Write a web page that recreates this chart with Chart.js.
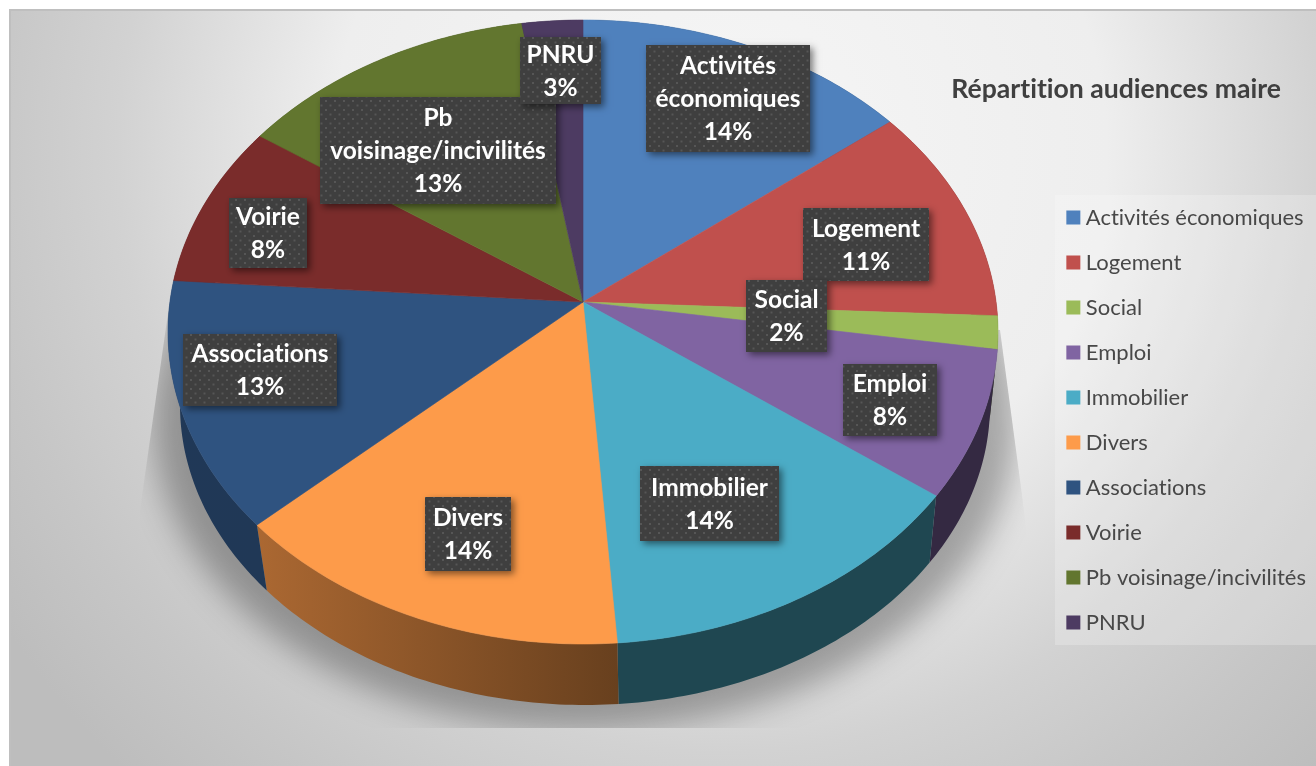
<!DOCTYPE html>
<html lang="fr">
<head>
<meta charset="utf-8">
<style>html,body{margin:0;padding:0;background:#fff}canvas{display:block}</style>
<script src="https://cdn.jsdelivr.net/npm/chart.js@4"></script>
</head>
<body>
<canvas id="c" width="1316" height="766"></canvas>
<script>
const categories = ['Activités économiques','Logement','Social','Emploi','Immobilier','Divers','Associations','Voirie','Pb voisinage/incivilités','PNRU'];
const shares = [14.4,11.2,1.7,7.6,13.7,14.4,12.8,8.4,12.8,2.6];
const colors = ['#4f81bd','#c0504d','#9bbb59','#8064a2','#4bacc6','#fd9b4a','#2f5380','#7a2c2b','#62762f','#4d3b62'];
const labelLines = [['Activités','économiques'],['Logement'],['Social'],['Emploi'],['Immobilier'],['Divers'],['Associations'],['Voirie'],['Pb','voisinage/incivilités'],['PNRU']];
const labelBoxes = [[646,45,164,107],[803,208,126,73],[746,280,81,72],[843,364,94,72],[640,466,139,75],[425,497,86,74],[183,334,154,72],[229,198,78,70],[320,97,236,107],[520,37,81,67]];

const apex = {x:583,y:302};
const topEdge = {cx:583,cy:332,rx:415,ry:312};
const lowEdge = {cx:585,cy:405,rx:405,ry:300};
const titleText = 'Répartition audiences maire';

function unitOnRim(a){
  // ray from the apex in the foreshortened direction of angle a, cut with the top ellipse
  const dx = Math.sin(a), dy = -Math.cos(a);
  const ox = (apex.x-topEdge.cx)/topEdge.rx, oy = (apex.y-topEdge.cy)/topEdge.ry;
  const A = dx*dx+dy*dy, B = 2*(ox*dx+oy*dy), C = ox*ox+oy*oy-1;
  const s = (-B+Math.sqrt(B*B-4*A*C))/(2*A);
  return {u:ox+s*dx, v:oy+s*dy};
}
const onEdge = (e,p)=>({x:e.cx+e.rx*p.u, y:e.cy+e.ry*p.v});
function rimSamples(a0,a1){
  const out=[], n=Math.max(4,Math.ceil((a1-a0)/0.015));
  for(let i=0;i<=n;i++) out.push(unitOnRim(a0+(a1-a0)*i/n));
  return out;
}
function hexMul(hex,f){
  const n=parseInt(hex.slice(1),16);
  return `rgb(${Math.round((n>>16&255)*f)},${Math.round((n>>8&255)*f)},${Math.round((n&255)*f)})`;
}
const wallFactor = x => x>=560 ? 0.41 : x<=250 ? 0.68 : 0.68-(x-250)/(560-250)*0.27;

let dots;
function dotPattern(ctx){
  if(dots) return dots;
  const p=document.createElement('canvas'); p.width=p.height=9;
  const g=p.getContext('2d');
  g.fillStyle='#3f3f3f'; g.fillRect(0,0,9,9);
  g.fillStyle='#565656'; g.fillRect(1,1,2,2); g.fillRect(5.5,5.5,2,2);
  dots=ctx.createPattern(p,'repeat');
  return dots;
}

const scene = {
  id:'scene',
  beforeDraw(chart){
    const ctx=chart.ctx;
    ctx.textRendering='optimizeSpeed';
    ctx.save();
    ctx.fillStyle='#fff'; ctx.fillRect(0,0,1316,766);
    const g=ctx.createRadialGradient(720,150,0,720,150,860);
    g.addColorStop(0,'#f6f6f6'); g.addColorStop(0.45,'#eeeeee'); g.addColorStop(0.7,'#d2d2d2'); g.addColorStop(0.86,'#c6c6c6'); g.addColorStop(1,'#bdbdbd');
    ctx.fillStyle=g; ctx.fillRect(10,10,1306,756);
    ctx.fillStyle='#bfbfbf'; ctx.fillRect(10,9,1306,2); ctx.fillRect(9,9,2,757);
    ctx.fillStyle='rgba(255,255,255,0.22)'; ctx.fillRect(1055,195,261,450);
    ctx.restore();
  },
  beforeDatasetDraw(chart){
    const ctx=chart.ctx, arcs=chart.getDatasetMeta(0).data;
    // cast shadow
    ctx.save();
    ctx.beginPath();
    ctx.moveTo(172,285);ctx.lineTo(140,510);ctx.lineTo(140,728);ctx.lineTo(1030,728);ctx.lineTo(1026,525);ctx.lineTo(1000,330);ctx.closePath();
    ctx.clip();
    ctx.filter='blur(16px)';
    ctx.fillStyle='rgba(0,0,0,0.3)';
    ctx.beginPath();ctx.ellipse(585,418,432,312,0,0,Math.PI*2);ctx.fill();
    ctx.restore();
    // side walls
    arcs.forEach((arc,i)=>{
      const pts=rimSamples(arc.startAngle+Math.PI/2,arc.endAngle+Math.PI/2);
      const up=pts.map(p=>onEdge(topEdge,p)), lo=pts.map(p=>onEdge(lowEdge,p));
      const xs=up.map(p=>p.x), x0=Math.min(...xs), x1=Math.max(...xs);
      const g=ctx.createLinearGradient(x0,0,x1+0.01,0);
      g.addColorStop(0,hexMul(colors[i],wallFactor(x0)));
      g.addColorStop(1,hexMul(colors[i],wallFactor(x1)));
      ctx.fillStyle=g;
      ctx.beginPath();
      up.forEach((p,k)=>k?ctx.lineTo(p.x,p.y):ctx.moveTo(p.x,p.y));
      lo.slice().reverse().forEach(p=>ctx.lineTo(p.x,p.y));
      ctx.closePath();ctx.fill();
    });
    // top surface
    arcs.forEach((arc,i)=>{
      const up=rimSamples(arc.startAngle+Math.PI/2,arc.endAngle+Math.PI/2).map(p=>onEdge(topEdge,p));
      ctx.fillStyle=colors[i];
      ctx.strokeStyle=colors[i];ctx.lineWidth=0.6;
      ctx.beginPath();ctx.moveTo(apex.x,apex.y);
      up.forEach(p=>ctx.lineTo(p.x,p.y));
      ctx.closePath();ctx.fill();ctx.stroke();
    });
    // data labels
    shares.forEach((v,i)=>{
      const [x,y,w,h]=labelBoxes[i];
      ctx.save();
      ctx.shadowColor='rgba(0,0,0,0.5)';ctx.shadowBlur=7;ctx.shadowOffsetX=3;ctx.shadowOffsetY=3;
      ctx.fillStyle='#3f3f3f';ctx.fillRect(x,y,w,h);
      ctx.restore();
      ctx.fillStyle=dotPattern(ctx);ctx.fillRect(x,y,w,h);
      const lines=[...labelLines[i],Math.round(v)+'%'];
      ctx.fillStyle='#fff';ctx.font='bold 24.5px Lato';ctx.textAlign='center';ctx.textBaseline='middle';
      const lh=33, start=y+h/2+1-(lines.length-1)*lh/2;
      lines.forEach((t,k)=>ctx.fillText(t,x+w/2,start+k*lh));
    });
    return false;
  },
  afterLayout(chart){
    const t=chart.titleBlock;
    t.left=900;t.right=1281;t.top=73;
  }
};

new Chart(document.getElementById('c'),{
  type:'pie',
  data:{labels:categories,datasets:[{data:shares,backgroundColor:colors}]},
  plugins:[scene],
  options:{
    responsive:false,animation:false,
    layout:{padding:{top:74,right:0,bottom:0,left:0}},
    plugins:{
      tooltip:{enabled:false},
      title:{display:true,text:titleText,align:'end',color:'#404040',font:{family:'Lato',size:26.6,weight:'bold'},padding:0},
      legend:{position:'right',align:'center',
        labels:{font:{family:'Lato',size:22},color:'#484848',boxWidth:3,boxHeight:3,padding:23,
          generateLabels(chart){
            return categories.map((text,i)=>({text,fillStyle:colors[i],strokeStyle:colors[i],lineWidth:11,index:i,hidden:false,fontColor:'#484848'}));
          }
        }
      }
    }
  }
});
</script>
</body>
</html>
